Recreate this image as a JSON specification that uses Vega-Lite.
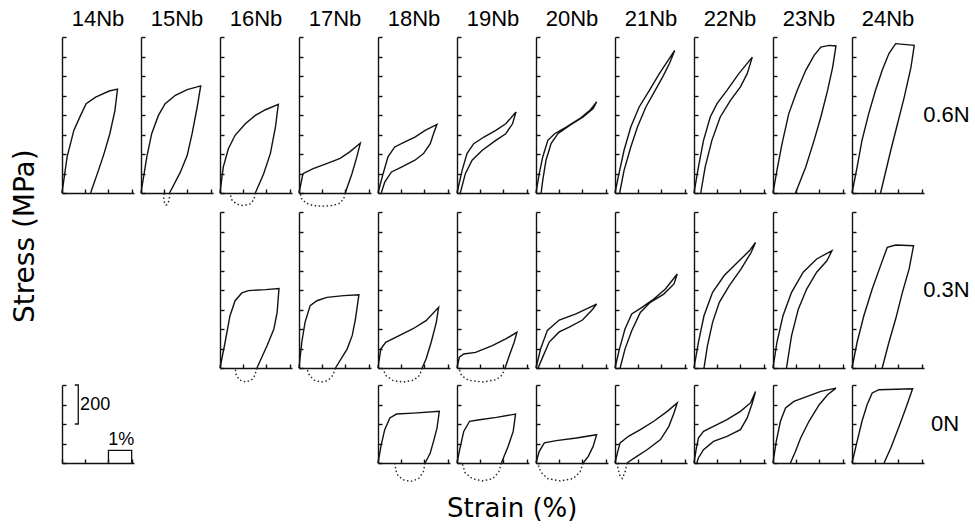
{
"$schema":"https://vega.github.io/schema/vega-lite/v6.json",
"padding":{"left":12,"top":8,"right":0,"bottom":0},
"config":{"view":{"stroke":null},"font":"Liberation Sans",
"axis":{"labels":false,"grid":false,"domainColor":"#111","tickColor":"#111","domainWidth":1.4,"tickWidth":1.4,"tickSize":-4}},
"title":{"text":"Stress (MPa)","orient":"left","anchor":"middle","font":"DejaVu Sans","fontSize":28,"fontWeight":"normal","color":"#000","offset":19,"dx":29},
"data":{"values":[
{"n":"14Nb","f":"0.6N","k":"L","i":0,"s":0,"t":0},{"n":"14Nb","f":"0.6N","k":"L","i":1,"s":0.22,"t":185},{"n":"14Nb","f":"0.6N","k":"L","i":2,"s":0.51,"t":321},{"n":"14Nb","f":"0.6N","k":"L","i":3,"s":0.8,"t":398},{"n":"14Nb","f":"0.6N","k":"L","i":4,"s":1.04,"t":458},{"n":"14Nb","f":"0.6N","k":"L","i":5,"s":1.45,"t":492},{"n":"14Nb","f":"0.6N","k":"L","i":6,"s":2.03,"t":523},{"n":"14Nb","f":"0.6N","k":"L","i":7,"s":2.39,"t":533},{"n":"14Nb","f":"0.6N","k":"L","i":8,"s":2.28,"t":424},{"n":"14Nb","f":"0.6N","k":"L","i":9,"s":2.06,"t":304},{"n":"14Nb","f":"0.6N","k":"L","i":10,"s":1.81,"t":202},{"n":"14Nb","f":"0.6N","k":"L","i":11,"s":1.57,"t":116},{"n":"14Nb","f":"0.6N","k":"L","i":12,"s":1.23,"t":0},
{"n":"15Nb","f":"0.6N","k":"L","i":0,"s":0,"t":0},{"n":"15Nb","f":"0.6N","k":"L","i":1,"s":0.25,"t":185},{"n":"15Nb","f":"0.6N","k":"L","i":2,"s":0.46,"t":304},{"n":"15Nb","f":"0.6N","k":"L","i":3,"s":0.75,"t":398},{"n":"15Nb","f":"0.6N","k":"L","i":4,"s":1.04,"t":458},{"n":"15Nb","f":"0.6N","k":"L","i":5,"s":1.48,"t":501},{"n":"15Nb","f":"0.6N","k":"L","i":6,"s":1.99,"t":530},{"n":"15Nb","f":"0.6N","k":"L","i":7,"s":2.57,"t":549},{"n":"15Nb","f":"0.6N","k":"L","i":8,"s":2.42,"t":441},{"n":"15Nb","f":"0.6N","k":"L","i":9,"s":2.2,"t":304},{"n":"15Nb","f":"0.6N","k":"L","i":10,"s":1.99,"t":193},{"n":"15Nb","f":"0.6N","k":"L","i":11,"s":1.7,"t":108},{"n":"15Nb","f":"0.6N","k":"L","i":12,"s":1.23,"t":0},
{"n":"15Nb","f":"0.6N","k":"R","i":0,"s":1.23,"t":0},{"n":"15Nb","f":"0.6N","k":"R","i":1,"s":1.22,"t":-30},{"n":"15Nb","f":"0.6N","k":"R","i":2,"s":1.16,"t":-55},{"n":"15Nb","f":"0.6N","k":"R","i":3,"s":1.08,"t":-62},{"n":"15Nb","f":"0.6N","k":"R","i":4,"s":1.01,"t":-50},{"n":"15Nb","f":"0.6N","k":"R","i":5,"s":0.98,"t":-25},{"n":"15Nb","f":"0.6N","k":"R","i":6,"s":1.0,"t":0},
{"n":"16Nb","f":"0.6N","k":"L","i":0,"s":0,"t":0},{"n":"16Nb","f":"0.6N","k":"L","i":1,"s":0.14,"t":133},{"n":"16Nb","f":"0.6N","k":"L","i":2,"s":0.36,"t":227},{"n":"16Nb","f":"0.6N","k":"L","i":3,"s":0.65,"t":296},{"n":"16Nb","f":"0.6N","k":"L","i":4,"s":1.09,"t":355},{"n":"16Nb","f":"0.6N","k":"L","i":5,"s":1.52,"t":398},{"n":"16Nb","f":"0.6N","k":"L","i":6,"s":1.96,"t":427},{"n":"16Nb","f":"0.6N","k":"L","i":7,"s":2.51,"t":455},{"n":"16Nb","f":"0.6N","k":"L","i":8,"s":2.39,"t":340},{"n":"16Nb","f":"0.6N","k":"L","i":9,"s":2.17,"t":203},{"n":"16Nb","f":"0.6N","k":"L","i":10,"s":1.88,"t":99},{"n":"16Nb","f":"0.6N","k":"L","i":11,"s":1.52,"t":0},
{"n":"16Nb","f":"0.6N","k":"R","i":0,"s":1.52,"t":0},{"n":"16Nb","f":"0.6N","k":"R","i":1,"s":1.46,"t":-34},{"n":"16Nb","f":"0.6N","k":"R","i":2,"s":1.3,"t":-56},{"n":"16Nb","f":"0.6N","k":"R","i":3,"s":1.0,"t":-65},{"n":"16Nb","f":"0.6N","k":"R","i":4,"s":0.7,"t":-56},{"n":"16Nb","f":"0.6N","k":"R","i":5,"s":0.5,"t":-34},{"n":"16Nb","f":"0.6N","k":"R","i":6,"s":0.43,"t":0},
{"n":"17Nb","f":"0.6N","k":"L","i":0,"s":0,"t":0},{"n":"17Nb","f":"0.6N","k":"L","i":1,"s":0.17,"t":99},{"n":"17Nb","f":"0.6N","k":"L","i":2,"s":0.61,"t":125},{"n":"17Nb","f":"0.6N","k":"L","i":3,"s":1.19,"t":151},{"n":"17Nb","f":"0.6N","k":"L","i":4,"s":1.77,"t":178},{"n":"17Nb","f":"0.6N","k":"L","i":5,"s":2.2,"t":212},{"n":"17Nb","f":"0.6N","k":"L","i":6,"s":2.64,"t":256},{"n":"17Nb","f":"0.6N","k":"L","i":7,"s":2.49,"t":185},{"n":"17Nb","f":"0.6N","k":"L","i":8,"s":2.28,"t":99},{"n":"17Nb","f":"0.6N","k":"L","i":9,"s":1.99,"t":0},
{"n":"17Nb","f":"0.6N","k":"R","i":0,"s":1.99,"t":0},{"n":"17Nb","f":"0.6N","k":"R","i":1,"s":1.92,"t":-32},{"n":"17Nb","f":"0.6N","k":"R","i":2,"s":1.72,"t":-55},{"n":"17Nb","f":"0.6N","k":"R","i":3,"s":1.4,"t":-65},{"n":"17Nb","f":"0.6N","k":"R","i":4,"s":1.0,"t":-68},{"n":"17Nb","f":"0.6N","k":"R","i":5,"s":0.6,"t":-64},{"n":"17Nb","f":"0.6N","k":"R","i":6,"s":0.3,"t":-52},{"n":"17Nb","f":"0.6N","k":"R","i":7,"s":0.1,"t":-27},{"n":"17Nb","f":"0.6N","k":"R","i":8,"s":0.05,"t":0},
{"n":"18Nb","f":"0.6N","k":"L","i":0,"s":0,"t":0},{"n":"18Nb","f":"0.6N","k":"L","i":1,"s":0.22,"t":99},{"n":"18Nb","f":"0.6N","k":"L","i":2,"s":0.43,"t":185},{"n":"18Nb","f":"0.6N","k":"L","i":3,"s":0.72,"t":236},{"n":"18Nb","f":"0.6N","k":"L","i":4,"s":1.16,"t":262},{"n":"18Nb","f":"0.6N","k":"L","i":5,"s":1.59,"t":287},{"n":"18Nb","f":"0.6N","k":"L","i":6,"s":2.03,"t":321},{"n":"18Nb","f":"0.6N","k":"L","i":7,"s":2.54,"t":352},{"n":"18Nb","f":"0.6N","k":"L","i":8,"s":2.39,"t":304},{"n":"18Nb","f":"0.6N","k":"L","i":9,"s":2.25,"t":253},{"n":"18Nb","f":"0.6N","k":"L","i":10,"s":1.96,"t":202},{"n":"18Nb","f":"0.6N","k":"L","i":11,"s":1.59,"t":168},{"n":"18Nb","f":"0.6N","k":"L","i":12,"s":1.01,"t":133},{"n":"18Nb","f":"0.6N","k":"L","i":13,"s":0.58,"t":108},{"n":"18Nb","f":"0.6N","k":"L","i":14,"s":0.29,"t":56},{"n":"18Nb","f":"0.6N","k":"L","i":15,"s":0.14,"t":0},
{"n":"19Nb","f":"0.6N","k":"L","i":0,"s":0,"t":0},{"n":"19Nb","f":"0.6N","k":"L","i":1,"s":0.22,"t":116},{"n":"19Nb","f":"0.6N","k":"L","i":2,"s":0.43,"t":202},{"n":"19Nb","f":"0.6N","k":"L","i":3,"s":0.72,"t":253},{"n":"19Nb","f":"0.6N","k":"L","i":4,"s":1.16,"t":287},{"n":"19Nb","f":"0.6N","k":"L","i":5,"s":1.67,"t":321},{"n":"19Nb","f":"0.6N","k":"L","i":6,"s":2.1,"t":355},{"n":"19Nb","f":"0.6N","k":"L","i":7,"s":2.54,"t":415},{"n":"19Nb","f":"0.6N","k":"L","i":8,"s":2.39,"t":355},{"n":"19Nb","f":"0.6N","k":"L","i":9,"s":2.1,"t":304},{"n":"19Nb","f":"0.6N","k":"L","i":10,"s":1.67,"t":270},{"n":"19Nb","f":"0.6N","k":"L","i":11,"s":1.09,"t":219},{"n":"19Nb","f":"0.6N","k":"L","i":12,"s":0.65,"t":168},{"n":"19Nb","f":"0.6N","k":"L","i":13,"s":0.36,"t":99},{"n":"19Nb","f":"0.6N","k":"L","i":14,"s":0.14,"t":0},
{"n":"20Nb","f":"0.6N","k":"L","i":0,"s":0,"t":0},{"n":"20Nb","f":"0.6N","k":"L","i":1,"s":0.14,"t":99},{"n":"20Nb","f":"0.6N","k":"L","i":2,"s":0.29,"t":185},{"n":"20Nb","f":"0.6N","k":"L","i":3,"s":0.51,"t":270},{"n":"20Nb","f":"0.6N","k":"L","i":4,"s":0.8,"t":304},{"n":"20Nb","f":"0.6N","k":"L","i":5,"s":1.3,"t":338},{"n":"20Nb","f":"0.6N","k":"L","i":6,"s":1.88,"t":381},{"n":"20Nb","f":"0.6N","k":"L","i":7,"s":2.32,"t":424},{"n":"20Nb","f":"0.6N","k":"L","i":8,"s":2.61,"t":467},{"n":"20Nb","f":"0.6N","k":"L","i":9,"s":2.46,"t":433},{"n":"20Nb","f":"0.6N","k":"L","i":10,"s":2.03,"t":390},{"n":"20Nb","f":"0.6N","k":"L","i":11,"s":1.45,"t":347},{"n":"20Nb","f":"0.6N","k":"L","i":12,"s":0.94,"t":304},{"n":"20Nb","f":"0.6N","k":"L","i":13,"s":0.65,"t":253},{"n":"20Nb","f":"0.6N","k":"L","i":14,"s":0.43,"t":168},{"n":"20Nb","f":"0.6N","k":"L","i":15,"s":0.29,"t":65},{"n":"20Nb","f":"0.6N","k":"L","i":16,"s":0.22,"t":0},
{"n":"21Nb","f":"0.6N","k":"L","i":0,"s":0,"t":0},{"n":"21Nb","f":"0.6N","k":"L","i":1,"s":0.17,"t":99},{"n":"21Nb","f":"0.6N","k":"L","i":2,"s":0.39,"t":219},{"n":"21Nb","f":"0.6N","k":"L","i":3,"s":0.68,"t":338},{"n":"21Nb","f":"0.6N","k":"L","i":4,"s":1.04,"t":441},{"n":"21Nb","f":"0.6N","k":"L","i":5,"s":1.48,"t":526},{"n":"21Nb","f":"0.6N","k":"L","i":6,"s":1.91,"t":612},{"n":"21Nb","f":"0.6N","k":"L","i":7,"s":2.57,"t":731},{"n":"21Nb","f":"0.6N","k":"L","i":8,"s":2.35,"t":665},{"n":"21Nb","f":"0.6N","k":"L","i":9,"s":2.06,"t":597},{"n":"21Nb","f":"0.6N","k":"L","i":10,"s":1.7,"t":520},{"n":"21Nb","f":"0.6N","k":"L","i":11,"s":1.33,"t":441},{"n":"21Nb","f":"0.6N","k":"L","i":12,"s":0.97,"t":340},{"n":"21Nb","f":"0.6N","k":"L","i":13,"s":0.68,"t":236},{"n":"21Nb","f":"0.6N","k":"L","i":14,"s":0.39,"t":116},{"n":"21Nb","f":"0.6N","k":"L","i":15,"s":0.2,"t":0},
{"n":"22Nb","f":"0.6N","k":"L","i":0,"s":0,"t":0},{"n":"22Nb","f":"0.6N","k":"L","i":1,"s":0.19,"t":133},{"n":"22Nb","f":"0.6N","k":"L","i":2,"s":0.41,"t":270},{"n":"22Nb","f":"0.6N","k":"L","i":3,"s":0.7,"t":390},{"n":"22Nb","f":"0.6N","k":"L","i":4,"s":0.99,"t":458},{"n":"22Nb","f":"0.6N","k":"L","i":5,"s":1.42,"t":526},{"n":"22Nb","f":"0.6N","k":"L","i":6,"s":1.93,"t":612},{"n":"22Nb","f":"0.6N","k":"L","i":7,"s":2.51,"t":697},{"n":"22Nb","f":"0.6N","k":"L","i":8,"s":2.29,"t":612},{"n":"22Nb","f":"0.6N","k":"L","i":9,"s":2.0,"t":544},{"n":"22Nb","f":"0.6N","k":"L","i":10,"s":1.57,"t":475},{"n":"22Nb","f":"0.6N","k":"L","i":11,"s":1.13,"t":390},{"n":"22Nb","f":"0.6N","k":"L","i":12,"s":0.77,"t":270},{"n":"22Nb","f":"0.6N","k":"L","i":13,"s":0.48,"t":133},{"n":"22Nb","f":"0.6N","k":"L","i":14,"s":0.29,"t":0},
{"n":"23Nb","f":"0.6N","k":"L","i":0,"s":0,"t":0},{"n":"23Nb","f":"0.6N","k":"L","i":1,"s":0.17,"t":116},{"n":"23Nb","f":"0.6N","k":"L","i":2,"s":0.39,"t":253},{"n":"23Nb","f":"0.6N","k":"L","i":3,"s":0.68,"t":407},{"n":"23Nb","f":"0.6N","k":"L","i":4,"s":1.04,"t":526},{"n":"23Nb","f":"0.6N","k":"L","i":5,"s":1.41,"t":629},{"n":"23Nb","f":"0.6N","k":"L","i":6,"s":1.77,"t":706},{"n":"23Nb","f":"0.6N","k":"L","i":7,"s":2.06,"t":748},{"n":"23Nb","f":"0.6N","k":"L","i":8,"s":2.42,"t":757},{"n":"23Nb","f":"0.6N","k":"L","i":9,"s":2.71,"t":754},{"n":"23Nb","f":"0.6N","k":"L","i":10,"s":2.57,"t":646},{"n":"23Nb","f":"0.6N","k":"L","i":11,"s":2.35,"t":526},{"n":"23Nb","f":"0.6N","k":"L","i":12,"s":2.06,"t":390},{"n":"23Nb","f":"0.6N","k":"L","i":13,"s":1.77,"t":270},{"n":"23Nb","f":"0.6N","k":"L","i":14,"s":1.41,"t":133},{"n":"23Nb","f":"0.6N","k":"L","i":15,"s":0.97,"t":0},
{"n":"24Nb","f":"0.6N","k":"L","i":0,"s":0,"t":0},{"n":"24Nb","f":"0.6N","k":"L","i":1,"s":0.22,"t":133},{"n":"24Nb","f":"0.6N","k":"L","i":2,"s":0.43,"t":270},{"n":"24Nb","f":"0.6N","k":"L","i":3,"s":0.72,"t":407},{"n":"24Nb","f":"0.6N","k":"L","i":4,"s":1.01,"t":526},{"n":"24Nb","f":"0.6N","k":"L","i":5,"s":1.3,"t":629},{"n":"24Nb","f":"0.6N","k":"L","i":6,"s":1.59,"t":715},{"n":"24Nb","f":"0.6N","k":"L","i":7,"s":1.88,"t":766},{"n":"24Nb","f":"0.6N","k":"L","i":8,"s":2.68,"t":757},{"n":"24Nb","f":"0.6N","k":"L","i":9,"s":2.54,"t":646},{"n":"24Nb","f":"0.6N","k":"L","i":10,"s":2.25,"t":492},{"n":"24Nb","f":"0.6N","k":"L","i":11,"s":1.96,"t":355},{"n":"24Nb","f":"0.6N","k":"L","i":12,"s":1.67,"t":219},{"n":"24Nb","f":"0.6N","k":"L","i":13,"s":1.23,"t":0},
{"n":"16Nb","f":"0.3N","k":"L","i":0,"s":0,"t":0},{"n":"16Nb","f":"0.3N","k":"L","i":1,"s":0.22,"t":132},{"n":"16Nb","f":"0.3N","k":"L","i":2,"s":0.43,"t":268},{"n":"16Nb","f":"0.3N","k":"L","i":3,"s":0.65,"t":345},{"n":"16Nb","f":"0.3N","k":"L","i":4,"s":0.94,"t":385},{"n":"16Nb","f":"0.3N","k":"L","i":5,"s":1.23,"t":397},{"n":"16Nb","f":"0.3N","k":"L","i":6,"s":1.96,"t":402},{"n":"16Nb","f":"0.3N","k":"L","i":7,"s":2.54,"t":408},{"n":"16Nb","f":"0.3N","k":"L","i":8,"s":2.46,"t":285},{"n":"16Nb","f":"0.3N","k":"L","i":9,"s":2.32,"t":200},{"n":"16Nb","f":"0.3N","k":"L","i":10,"s":2.03,"t":115},{"n":"16Nb","f":"0.3N","k":"L","i":11,"s":1.59,"t":0},
{"n":"16Nb","f":"0.3N","k":"R","i":0,"s":1.59,"t":0},{"n":"16Nb","f":"0.3N","k":"R","i":1,"s":1.5,"t":-38},{"n":"16Nb","f":"0.3N","k":"R","i":2,"s":1.35,"t":-62},{"n":"16Nb","f":"0.3N","k":"R","i":3,"s":1.1,"t":-72},{"n":"16Nb","f":"0.3N","k":"R","i":4,"s":0.85,"t":-62},{"n":"16Nb","f":"0.3N","k":"R","i":5,"s":0.7,"t":-38},{"n":"16Nb","f":"0.3N","k":"R","i":6,"s":0.65,"t":0},
{"n":"17Nb","f":"0.3N","k":"L","i":0,"s":0,"t":0},{"n":"17Nb","f":"0.3N","k":"L","i":1,"s":0.12,"t":132},{"n":"17Nb","f":"0.3N","k":"L","i":2,"s":0.26,"t":234},{"n":"17Nb","f":"0.3N","k":"L","i":3,"s":0.48,"t":320},{"n":"17Nb","f":"0.3N","k":"L","i":4,"s":0.77,"t":345},{"n":"17Nb","f":"0.3N","k":"L","i":5,"s":1.2,"t":362},{"n":"17Nb","f":"0.3N","k":"L","i":6,"s":1.93,"t":371},{"n":"17Nb","f":"0.3N","k":"L","i":7,"s":2.58,"t":376},{"n":"17Nb","f":"0.3N","k":"L","i":8,"s":2.43,"t":251},{"n":"17Nb","f":"0.3N","k":"L","i":9,"s":2.29,"t":166},{"n":"17Nb","f":"0.3N","k":"L","i":10,"s":2.07,"t":97},{"n":"17Nb","f":"0.3N","k":"L","i":11,"s":1.57,"t":0},
{"n":"17Nb","f":"0.3N","k":"R","i":0,"s":1.57,"t":0},{"n":"17Nb","f":"0.3N","k":"R","i":1,"s":1.45,"t":-38},{"n":"17Nb","f":"0.3N","k":"R","i":2,"s":1.25,"t":-64},{"n":"17Nb","f":"0.3N","k":"R","i":3,"s":0.95,"t":-72},{"n":"17Nb","f":"0.3N","k":"R","i":4,"s":0.65,"t":-62},{"n":"17Nb","f":"0.3N","k":"R","i":5,"s":0.45,"t":-38},{"n":"17Nb","f":"0.3N","k":"R","i":6,"s":0.33,"t":0},
{"n":"18Nb","f":"0.3N","k":"L","i":0,"s":0,"t":0},{"n":"18Nb","f":"0.3N","k":"L","i":1,"s":0.12,"t":97},{"n":"18Nb","f":"0.3N","k":"L","i":2,"s":0.33,"t":132},{"n":"18Nb","f":"0.3N","k":"L","i":3,"s":0.91,"t":166},{"n":"18Nb","f":"0.3N","k":"L","i":4,"s":1.49,"t":200},{"n":"18Nb","f":"0.3N","k":"L","i":5,"s":2.07,"t":243},{"n":"18Nb","f":"0.3N","k":"L","i":6,"s":2.61,"t":311},{"n":"18Nb","f":"0.3N","k":"L","i":7,"s":2.51,"t":234},{"n":"18Nb","f":"0.3N","k":"L","i":8,"s":2.29,"t":132},{"n":"18Nb","f":"0.3N","k":"L","i":9,"s":2.07,"t":46},{"n":"18Nb","f":"0.3N","k":"L","i":10,"s":1.9,"t":0},
{"n":"18Nb","f":"0.3N","k":"R","i":0,"s":1.9,"t":0},{"n":"18Nb","f":"0.3N","k":"R","i":1,"s":1.8,"t":-36},{"n":"18Nb","f":"0.3N","k":"R","i":2,"s":1.55,"t":-62},{"n":"18Nb","f":"0.3N","k":"R","i":3,"s":1.1,"t":-72},{"n":"18Nb","f":"0.3N","k":"R","i":4,"s":0.65,"t":-65},{"n":"18Nb","f":"0.3N","k":"R","i":5,"s":0.35,"t":-40},{"n":"18Nb","f":"0.3N","k":"R","i":6,"s":0.19,"t":0},
{"n":"19Nb","f":"0.3N","k":"L","i":0,"s":0,"t":0},{"n":"19Nb","f":"0.3N","k":"L","i":1,"s":0.1,"t":55},{"n":"19Nb","f":"0.3N","k":"L","i":2,"s":0.29,"t":72},{"n":"19Nb","f":"0.3N","k":"L","i":3,"s":0.8,"t":80},{"n":"19Nb","f":"0.3N","k":"L","i":4,"s":1.52,"t":115},{"n":"19Nb","f":"0.3N","k":"L","i":5,"s":2.1,"t":149},{"n":"19Nb","f":"0.3N","k":"L","i":6,"s":2.58,"t":183},{"n":"19Nb","f":"0.3N","k":"L","i":7,"s":2.46,"t":132},{"n":"19Nb","f":"0.3N","k":"L","i":8,"s":2.25,"t":63},{"n":"19Nb","f":"0.3N","k":"L","i":9,"s":2.07,"t":0},
{"n":"19Nb","f":"0.3N","k":"R","i":0,"s":2.07,"t":0},{"n":"19Nb","f":"0.3N","k":"R","i":1,"s":1.95,"t":-35},{"n":"19Nb","f":"0.3N","k":"R","i":2,"s":1.7,"t":-60},{"n":"19Nb","f":"0.3N","k":"R","i":3,"s":1.1,"t":-72},{"n":"19Nb","f":"0.3N","k":"R","i":4,"s":0.5,"t":-63},{"n":"19Nb","f":"0.3N","k":"R","i":5,"s":0.2,"t":-40},{"n":"19Nb","f":"0.3N","k":"R","i":6,"s":0.07,"t":0},
{"n":"20Nb","f":"0.3N","k":"L","i":0,"s":0,"t":0},{"n":"20Nb","f":"0.3N","k":"L","i":1,"s":0.2,"t":99},{"n":"20Nb","f":"0.3N","k":"L","i":2,"s":0.49,"t":193},{"n":"20Nb","f":"0.3N","k":"L","i":3,"s":1.0,"t":246},{"n":"20Nb","f":"0.3N","k":"L","i":4,"s":1.72,"t":278},{"n":"20Nb","f":"0.3N","k":"L","i":5,"s":2.61,"t":328},{"n":"20Nb","f":"0.3N","k":"L","i":6,"s":2.43,"t":300},{"n":"20Nb","f":"0.3N","k":"L","i":7,"s":2.0,"t":246},{"n":"20Nb","f":"0.3N","k":"L","i":8,"s":1.43,"t":210},{"n":"20Nb","f":"0.3N","k":"L","i":9,"s":1.0,"t":185},{"n":"20Nb","f":"0.3N","k":"L","i":10,"s":0.57,"t":133},{"n":"20Nb","f":"0.3N","k":"L","i":11,"s":0.26,"t":48},{"n":"20Nb","f":"0.3N","k":"L","i":12,"s":0.09,"t":0},
{"n":"21Nb","f":"0.3N","k":"L","i":0,"s":0,"t":0},{"n":"21Nb","f":"0.3N","k":"L","i":1,"s":0.19,"t":97},{"n":"21Nb","f":"0.3N","k":"L","i":2,"s":0.43,"t":200},{"n":"21Nb","f":"0.3N","k":"L","i":3,"s":0.72,"t":277},{"n":"21Nb","f":"0.3N","k":"L","i":4,"s":1.16,"t":311},{"n":"21Nb","f":"0.3N","k":"L","i":5,"s":1.67,"t":354},{"n":"21Nb","f":"0.3N","k":"L","i":6,"s":2.17,"t":405},{"n":"21Nb","f":"0.3N","k":"L","i":7,"s":2.68,"t":482},{"n":"21Nb","f":"0.3N","k":"L","i":8,"s":2.54,"t":431},{"n":"21Nb","f":"0.3N","k":"L","i":9,"s":2.1,"t":379},{"n":"21Nb","f":"0.3N","k":"L","i":10,"s":1.52,"t":337},{"n":"21Nb","f":"0.3N","k":"L","i":11,"s":1.09,"t":285},{"n":"21Nb","f":"0.3N","k":"L","i":12,"s":0.72,"t":191},{"n":"21Nb","f":"0.3N","k":"L","i":13,"s":0.43,"t":97},{"n":"21Nb","f":"0.3N","k":"L","i":14,"s":0.22,"t":0},
{"n":"22Nb","f":"0.3N","k":"L","i":0,"s":0,"t":0},{"n":"22Nb","f":"0.3N","k":"L","i":1,"s":0.19,"t":132},{"n":"22Nb","f":"0.3N","k":"L","i":2,"s":0.43,"t":268},{"n":"22Nb","f":"0.3N","k":"L","i":3,"s":0.8,"t":388},{"n":"22Nb","f":"0.3N","k":"L","i":4,"s":1.3,"t":474},{"n":"22Nb","f":"0.3N","k":"L","i":5,"s":1.88,"t":542},{"n":"22Nb","f":"0.3N","k":"L","i":6,"s":2.39,"t":602},{"n":"22Nb","f":"0.3N","k":"L","i":7,"s":2.65,"t":644},{"n":"22Nb","f":"0.3N","k":"L","i":8,"s":2.46,"t":593},{"n":"22Nb","f":"0.3N","k":"L","i":9,"s":2.03,"t":508},{"n":"22Nb","f":"0.3N","k":"L","i":10,"s":1.52,"t":422},{"n":"22Nb","f":"0.3N","k":"L","i":11,"s":1.09,"t":337},{"n":"22Nb","f":"0.3N","k":"L","i":12,"s":0.8,"t":234},{"n":"22Nb","f":"0.3N","k":"L","i":13,"s":0.58,"t":115},{"n":"22Nb","f":"0.3N","k":"L","i":14,"s":0.43,"t":0},
{"n":"23Nb","f":"0.3N","k":"L","i":0,"s":0,"t":0},{"n":"23Nb","f":"0.3N","k":"L","i":1,"s":0.17,"t":132},{"n":"23Nb","f":"0.3N","k":"L","i":2,"s":0.43,"t":268},{"n":"23Nb","f":"0.3N","k":"L","i":3,"s":0.8,"t":388},{"n":"23Nb","f":"0.3N","k":"L","i":4,"s":1.3,"t":491},{"n":"23Nb","f":"0.3N","k":"L","i":5,"s":1.88,"t":559},{"n":"23Nb","f":"0.3N","k":"L","i":6,"s":2.54,"t":602},{"n":"23Nb","f":"0.3N","k":"L","i":7,"s":2.32,"t":550},{"n":"23Nb","f":"0.3N","k":"L","i":8,"s":1.88,"t":491},{"n":"23Nb","f":"0.3N","k":"L","i":9,"s":1.45,"t":405},{"n":"23Nb","f":"0.3N","k":"L","i":10,"s":1.09,"t":302},{"n":"23Nb","f":"0.3N","k":"L","i":11,"s":0.8,"t":166},{"n":"23Nb","f":"0.3N","k":"L","i":12,"s":0.58,"t":0},
{"n":"24Nb","f":"0.3N","k":"L","i":0,"s":0,"t":0},{"n":"24Nb","f":"0.3N","k":"L","i":1,"s":0.22,"t":132},{"n":"24Nb","f":"0.3N","k":"L","i":2,"s":0.51,"t":268},{"n":"24Nb","f":"0.3N","k":"L","i":3,"s":0.87,"t":405},{"n":"24Nb","f":"0.3N","k":"L","i":4,"s":1.23,"t":525},{"n":"24Nb","f":"0.3N","k":"L","i":5,"s":1.52,"t":619},{"n":"24Nb","f":"0.3N","k":"L","i":6,"s":1.88,"t":631},{"n":"24Nb","f":"0.3N","k":"L","i":7,"s":2.65,"t":627},{"n":"24Nb","f":"0.3N","k":"L","i":8,"s":2.46,"t":508},{"n":"24Nb","f":"0.3N","k":"L","i":9,"s":2.17,"t":388},{"n":"24Nb","f":"0.3N","k":"L","i":10,"s":1.88,"t":251},{"n":"24Nb","f":"0.3N","k":"L","i":11,"s":1.59,"t":132},{"n":"24Nb","f":"0.3N","k":"L","i":12,"s":1.3,"t":0},
{"n":"18Nb","f":"0N","k":"L","i":0,"s":0,"t":0},{"n":"18Nb","f":"0N","k":"L","i":1,"s":0.14,"t":94},{"n":"18Nb","f":"0N","k":"L","i":2,"s":0.29,"t":171},{"n":"18Nb","f":"0N","k":"L","i":3,"s":0.51,"t":231},{"n":"18Nb","f":"0N","k":"L","i":4,"s":0.8,"t":251},{"n":"18Nb","f":"0N","k":"L","i":5,"s":1.52,"t":256},{"n":"18Nb","f":"0N","k":"L","i":6,"s":2.64,"t":265},{"n":"18Nb","f":"0N","k":"L","i":7,"s":2.54,"t":179},{"n":"18Nb","f":"0N","k":"L","i":8,"s":2.39,"t":111},{"n":"18Nb","f":"0N","k":"L","i":9,"s":2.25,"t":51},{"n":"18Nb","f":"0N","k":"L","i":10,"s":2.03,"t":0},
{"n":"18Nb","f":"0N","k":"R","i":0,"s":2.03,"t":0},{"n":"18Nb","f":"0N","k":"R","i":1,"s":1.95,"t":-45},{"n":"18Nb","f":"0N","k":"R","i":2,"s":1.75,"t":-80},{"n":"18Nb","f":"0N","k":"R","i":3,"s":1.4,"t":-95},{"n":"18Nb","f":"0N","k":"R","i":4,"s":1.05,"t":-85},{"n":"18Nb","f":"0N","k":"R","i":5,"s":0.8,"t":-55},{"n":"18Nb","f":"0N","k":"R","i":6,"s":0.72,"t":0},
{"n":"19Nb","f":"0N","k":"L","i":0,"s":0,"t":0},{"n":"19Nb","f":"0N","k":"L","i":1,"s":0.13,"t":77},{"n":"19Nb","f":"0N","k":"L","i":2,"s":0.29,"t":162},{"n":"19Nb","f":"0N","k":"L","i":3,"s":0.54,"t":214},{"n":"19Nb","f":"0N","k":"L","i":4,"s":0.97,"t":222},{"n":"19Nb","f":"0N","k":"L","i":5,"s":1.7,"t":234},{"n":"19Nb","f":"0N","k":"L","i":6,"s":2.52,"t":251},{"n":"19Nb","f":"0N","k":"L","i":7,"s":2.42,"t":162},{"n":"19Nb","f":"0N","k":"L","i":8,"s":2.2,"t":85},{"n":"19Nb","f":"0N","k":"L","i":9,"s":1.91,"t":0},
{"n":"19Nb","f":"0N","k":"R","i":0,"s":1.91,"t":0},{"n":"19Nb","f":"0N","k":"R","i":1,"s":1.8,"t":-45},{"n":"19Nb","f":"0N","k":"R","i":2,"s":1.55,"t":-80},{"n":"19Nb","f":"0N","k":"R","i":3,"s":1.1,"t":-92},{"n":"19Nb","f":"0N","k":"R","i":4,"s":0.65,"t":-80},{"n":"19Nb","f":"0N","k":"R","i":5,"s":0.35,"t":-50},{"n":"19Nb","f":"0N","k":"R","i":6,"s":0.22,"t":0},
{"n":"20Nb","f":"0N","k":"L","i":0,"s":0,"t":0},{"n":"20Nb","f":"0N","k":"L","i":1,"s":0.14,"t":60},{"n":"20Nb","f":"0N","k":"L","i":2,"s":0.36,"t":103},{"n":"20Nb","f":"0N","k":"L","i":3,"s":0.87,"t":115},{"n":"20Nb","f":"0N","k":"L","i":4,"s":1.74,"t":128},{"n":"20Nb","f":"0N","k":"L","i":5,"s":2.61,"t":145},{"n":"20Nb","f":"0N","k":"L","i":6,"s":2.46,"t":85},{"n":"20Nb","f":"0N","k":"L","i":7,"s":2.25,"t":34},{"n":"20Nb","f":"0N","k":"L","i":8,"s":2.03,"t":0},
{"n":"20Nb","f":"0N","k":"R","i":0,"s":2.03,"t":0},{"n":"20Nb","f":"0N","k":"R","i":1,"s":1.9,"t":-45},{"n":"20Nb","f":"0N","k":"R","i":2,"s":1.6,"t":-80},{"n":"20Nb","f":"0N","k":"R","i":3,"s":1.05,"t":-92},{"n":"20Nb","f":"0N","k":"R","i":4,"s":0.5,"t":-80},{"n":"20Nb","f":"0N","k":"R","i":5,"s":0.2,"t":-45},{"n":"20Nb","f":"0N","k":"R","i":6,"s":0.07,"t":0},
{"n":"21Nb","f":"0N","k":"L","i":0,"s":0,"t":0},{"n":"21Nb","f":"0N","k":"L","i":1,"s":0.12,"t":60},{"n":"21Nb","f":"0N","k":"L","i":2,"s":0.22,"t":103},{"n":"21Nb","f":"0N","k":"L","i":3,"s":0.58,"t":137},{"n":"21Nb","f":"0N","k":"L","i":4,"s":1.09,"t":171},{"n":"21Nb","f":"0N","k":"L","i":5,"s":1.67,"t":214},{"n":"21Nb","f":"0N","k":"L","i":6,"s":2.25,"t":265},{"n":"21Nb","f":"0N","k":"L","i":7,"s":2.68,"t":308},{"n":"21Nb","f":"0N","k":"L","i":8,"s":2.54,"t":256},{"n":"21Nb","f":"0N","k":"L","i":9,"s":2.32,"t":188},{"n":"21Nb","f":"0N","k":"L","i":10,"s":1.96,"t":120},{"n":"21Nb","f":"0N","k":"L","i":11,"s":1.38,"t":68},{"n":"21Nb","f":"0N","k":"L","i":12,"s":0.94,"t":34},{"n":"21Nb","f":"0N","k":"L","i":13,"s":0.51,"t":0},
{"n":"21Nb","f":"0N","k":"R","i":0,"s":0.51,"t":0},{"n":"21Nb","f":"0N","k":"R","i":1,"s":0.45,"t":-40},{"n":"21Nb","f":"0N","k":"R","i":2,"s":0.32,"t":-80},{"n":"21Nb","f":"0N","k":"R","i":3,"s":0.22,"t":-70},{"n":"21Nb","f":"0N","k":"R","i":4,"s":0.13,"t":-30},{"n":"21Nb","f":"0N","k":"R","i":5,"s":0.1,"t":0},
{"n":"22Nb","f":"0N","k":"L","i":0,"s":0,"t":0},{"n":"22Nb","f":"0N","k":"L","i":1,"s":0.09,"t":68},{"n":"22Nb","f":"0N","k":"L","i":2,"s":0.19,"t":128},{"n":"22Nb","f":"0N","k":"L","i":3,"s":0.41,"t":162},{"n":"22Nb","f":"0N","k":"L","i":4,"s":0.84,"t":188},{"n":"22Nb","f":"0N","k":"L","i":5,"s":1.42,"t":222},{"n":"22Nb","f":"0N","k":"L","i":6,"s":2.0,"t":265},{"n":"22Nb","f":"0N","k":"L","i":7,"s":2.43,"t":308},{"n":"22Nb","f":"0N","k":"L","i":8,"s":2.65,"t":367},{"n":"22Nb","f":"0N","k":"L","i":9,"s":2.51,"t":308},{"n":"22Nb","f":"0N","k":"L","i":10,"s":2.29,"t":231},{"n":"22Nb","f":"0N","k":"L","i":11,"s":2.0,"t":171},{"n":"22Nb","f":"0N","k":"L","i":12,"s":1.42,"t":137},{"n":"22Nb","f":"0N","k":"L","i":13,"s":0.84,"t":111},{"n":"22Nb","f":"0N","k":"L","i":14,"s":0.41,"t":68},{"n":"22Nb","f":"0N","k":"L","i":15,"s":0.19,"t":26},{"n":"22Nb","f":"0N","k":"L","i":16,"s":0.12,"t":0},
{"n":"23Nb","f":"0N","k":"L","i":0,"s":0,"t":0},{"n":"23Nb","f":"0N","k":"L","i":1,"s":0.14,"t":111},{"n":"23Nb","f":"0N","k":"L","i":2,"s":0.32,"t":214},{"n":"23Nb","f":"0N","k":"L","i":3,"s":0.54,"t":282},{"n":"23Nb","f":"0N","k":"L","i":4,"s":0.9,"t":316},{"n":"23Nb","f":"0N","k":"L","i":5,"s":1.48,"t":342},{"n":"23Nb","f":"0N","k":"L","i":6,"s":2.06,"t":367},{"n":"23Nb","f":"0N","k":"L","i":7,"s":2.71,"t":384},{"n":"23Nb","f":"0N","k":"L","i":8,"s":2.35,"t":350},{"n":"23Nb","f":"0N","k":"L","i":9,"s":1.99,"t":299},{"n":"23Nb","f":"0N","k":"L","i":10,"s":1.55,"t":214},{"n":"23Nb","f":"0N","k":"L","i":11,"s":1.19,"t":128},{"n":"23Nb","f":"0N","k":"L","i":12,"s":0.97,"t":60},{"n":"23Nb","f":"0N","k":"L","i":13,"s":0.75,"t":0},
{"n":"24Nb","f":"0N","k":"L","i":0,"s":0,"t":0},{"n":"24Nb","f":"0N","k":"L","i":1,"s":0.22,"t":111},{"n":"24Nb","f":"0N","k":"L","i":2,"s":0.43,"t":214},{"n":"24Nb","f":"0N","k":"L","i":3,"s":0.65,"t":299},{"n":"24Nb","f":"0N","k":"L","i":4,"s":0.87,"t":359},{"n":"24Nb","f":"0N","k":"L","i":5,"s":1.16,"t":376},{"n":"24Nb","f":"0N","k":"L","i":6,"s":2.61,"t":381},{"n":"24Nb","f":"0N","k":"L","i":7,"s":2.32,"t":282},{"n":"24Nb","f":"0N","k":"L","i":8,"s":2.03,"t":188},{"n":"24Nb","f":"0N","k":"L","i":9,"s":1.67,"t":77},{"n":"24Nb","f":"0N","k":"L","i":10,"s":1.38,"t":0}
]},
"vconcat":[
{"transform":[{"filter":"datum.f=='0.6N'"}],
 "facet":{"row":{"field":"f","type":"nominal","header":{"title":null,"labelOrient":"right","labelAngle":0,"labelAlign":"center","labelFontSize":22,"labelPadding":-24,"labelFont":"Liberation Sans","labelColor":"#000"}},
          "column":{"field":"n","type":"nominal","header":{"title":null,"labelFontSize":22,"labelPadding":6,"labelFont":"Liberation Sans","labelColor":"#000"}}},
 "spacing":{"row":0,"column":7},"bounds":"flush",
 "resolve":{"axis":{"x":"independent","y":"independent"}},
 "spec":{"width":72,"height":156,
  "encoding":{"x":{"field":"s","type":"quantitative","scale":{"domain":[0,3.1],"nice":false,"zero":false},"axis":{"values":[0,1,2,3],"title":null}},
              "y":{"field":"t","type":"quantitative","scale":{"domain":[0,800],"nice":false},"axis":{"values":[0,100,200,300,400,500,600,700,800],"title":null}},
              "order":{"field":"i","type":"quantitative"}},
  "layer":[
   {"transform":[{"filter":"datum.k=='L'"}],"mark":{"type":"line","color":"#111","strokeWidth":1.4}},
   {"transform":[{"filter":"datum.k=='R'"}],"mark":{"type":"line","color":"#222","strokeWidth":1.4,"strokeDash":[1.5,2.5]}}
  ]}},
{"vconcat":[
{"hconcat":[
  {"width":151,"height":156,"data":{"values":[]},"mark":"point"},
  {"transform":[{"filter":"datum.f=='0.3N'"}],
   "facet":{"row":{"field":"f","type":"nominal","header":{"title":null,"labelOrient":"right","labelAngle":0,"labelAlign":"center","labelFontSize":22,"labelPadding":-24,"labelFont":"Liberation Sans","labelColor":"#000"}},
            "column":{"field":"n","type":"nominal","header":null}},
   "spacing":{"row":0,"column":7},"bounds":"flush",
   "resolve":{"axis":{"x":"independent","y":"independent"}},
   "spec":{"width":72,"height":156,
    "encoding":{"x":{"field":"s","type":"quantitative","scale":{"domain":[0,3.1],"nice":false,"zero":false},"axis":{"values":[0,1,2,3],"title":null}},
                "y":{"field":"t","type":"quantitative","scale":{"domain":[0,800],"nice":false},"axis":{"values":[0,100,200,300,400,500,600,700,800],"title":null}},
                "order":{"field":"i","type":"quantitative"}},
    "layer":[
     {"transform":[{"filter":"datum.k=='L'"}],"mark":{"type":"line","color":"#111","strokeWidth":1.4}},
     {"transform":[{"filter":"datum.k=='R'"}],"mark":{"type":"line","color":"#222","strokeWidth":1.4,"strokeDash":[1.5,2.5]}}
    ]}}
 ],"spacing":7,"bounds":"flush"},
{"hconcat":[
  {"width":72,"height":78,
   "data":{"values":[
    {"b":"y","i":0,"s":0.55,"t":400},{"b":"y","i":1,"s":0.7,"t":400},{"b":"y","i":2,"s":0.7,"t":200},{"b":"y","i":3,"s":0.55,"t":200},
    {"b":"x","i":0,"s":2,"t":0},{"b":"x","i":1,"s":2,"t":65},{"b":"x","i":2,"s":3,"t":65},{"b":"x","i":3,"s":3,"t":0},
    {"b":"label","i":0,"s":0.78,"t":300,"label":"200"},{"b":"label","i":1,"s":2.55,"t":118,"label":"1%"}]},
   "encoding":{"x":{"field":"s","type":"quantitative","scale":{"domain":[0,3.1],"nice":false,"zero":false},"axis":{"values":[0,1,2,3],"title":null}},
               "y":{"field":"t","type":"quantitative","scale":{"domain":[0,400],"nice":false},"axis":{"values":[0,100,200,300,400],"title":null}}},
   "layer":[
    {"transform":[{"filter":"datum.b!='label'"}],"mark":{"type":"line","color":"#111","strokeWidth":1.3},"encoding":{"detail":{"field":"b"},"order":{"field":"i","type":"quantitative"}}},
    {"transform":[{"filter":"datum.label=='200'"}],"mark":{"type":"text","align":"left","baseline":"middle","fontSize":18,"font":"Liberation Sans","color":"#000"},"encoding":{"text":{"field":"label"}}},
    {"transform":[{"filter":"datum.label=='1%'"}],"mark":{"type":"text","align":"center","baseline":"middle","fontSize":18,"font":"Liberation Sans","color":"#000"},"encoding":{"text":{"field":"label"}}}
   ]},
  {"width":230,"height":78,"data":{"values":[]},"mark":"point"},
  {"transform":[{"filter":"datum.f=='0N'"}],
   "facet":{"row":{"field":"f","type":"nominal","header":{"title":null,"labelOrient":"right","labelAngle":0,"labelAlign":"center","labelFontSize":22,"labelPadding":-7,"labelFont":"Liberation Sans","labelColor":"#000"}},
            "column":{"field":"n","type":"nominal","header":null}},
   "spacing":{"row":0,"column":7},"bounds":"flush",
   "resolve":{"axis":{"x":"independent","y":"independent"}},
   "spec":{"width":72,"height":78,
    "encoding":{"x":{"field":"s","type":"quantitative","scale":{"domain":[0,3.1],"nice":false,"zero":false},"axis":{"values":[0,1,2,3],"title":null}},
                "y":{"field":"t","type":"quantitative","scale":{"domain":[0,400],"nice":false},"axis":{"values":[0,100,200,300,400],"title":null}},
                "order":{"field":"i","type":"quantitative"}},
    "layer":[
     {"transform":[{"filter":"datum.k=='L'"}],"mark":{"type":"line","color":"#111","strokeWidth":1.4}},
     {"transform":[{"filter":"datum.k=='R'"}],"mark":{"type":"line","color":"#222","strokeWidth":1.4,"strokeDash":[1.5,2.5]}}
    ]}}
 ],"spacing":7,"bounds":"flush",
 "title":{"text":"Strain (%)","orient":"bottom","anchor":"middle","font":"DejaVu Sans","fontSize":26,"fontWeight":"normal","color":"#000","offset":12,"dx":2}}
],"spacing":-3}
],
"spacing":1
}
